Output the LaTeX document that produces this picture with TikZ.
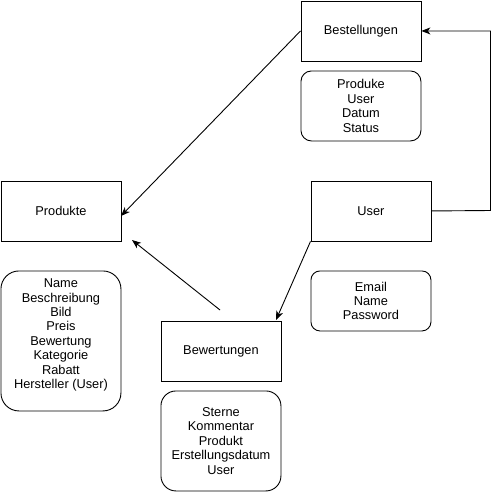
\documentclass[tikz,border=0pt]{standalone}
\usepackage{fontspec}
\setmainfont{Liberation Sans}
\usetikzlibrary{arrows.meta}
\begin{document}
\begin{tikzpicture}[x=1pt,y=-1pt,
  font=\fontsize{12.8}{14.4}\selectfont,
  entity/.style={draw,line width=0.9pt,minimum width=120pt,minimum height=60pt,inner sep=0pt,anchor=north west,align=center},
  attrs/.style={draw,line width=0.9pt,rounded corners=#1,inner sep=0pt,anchor=north west,align=center,minimum width=120pt},
  link/.style={line width=0.9pt,-{Stealth[length=9pt,width=7pt,inset=2.5pt]}}]
\useasboundingbox (0,0) rectangle (499,491);
% entities
\node[entity] (best) at (300.5,0.5) {Bestellungen};
\node[entity] (prod) at (0.5,180.5) {Produkte};
\node[entity] (user) at (310.5,180.5) {User};
\node[entity] (bew) at (160.5,320.5) {Bewertungen};
% attribute lists
\node[attrs=10.5pt,minimum height=70pt] (bestA) at (300.5,70.5) {Produke\\User\\Datum\\Status};
\node[attrs=18pt,minimum height=140pt] (prodA) at (0.5,270.5) {Name\\Beschreibung\\Bild\\Preis\\Bewertung\\Kategorie\\Rabatt\\Hersteller (User)\\~};
\node[attrs=9pt,minimum height=60pt] (userA) at (310.5,270.5) {Email\\Name\\Password};
\node[attrs=15pt,minimum height=100pt] (bewA) at (160.5,390.5) {Sterne\\Kommentar\\Produkt\\Erstellungsdatum\\User};
% relations
\coordinate (prodIn) at (121,216);
\coordinate (bewIn) at (276,320);
\coordinate (freeS) at (220,310);
\coordinate (freeE) at (132,240);
\draw[link] (best.west) -- (prodIn);
\draw[link] (user.east) -- (490.5,210.5) |- (best.east);
\draw[link] (user.south west) -- (bewIn);
\draw[link] (freeS) -- (freeE);
\end{tikzpicture}
\end{document}
